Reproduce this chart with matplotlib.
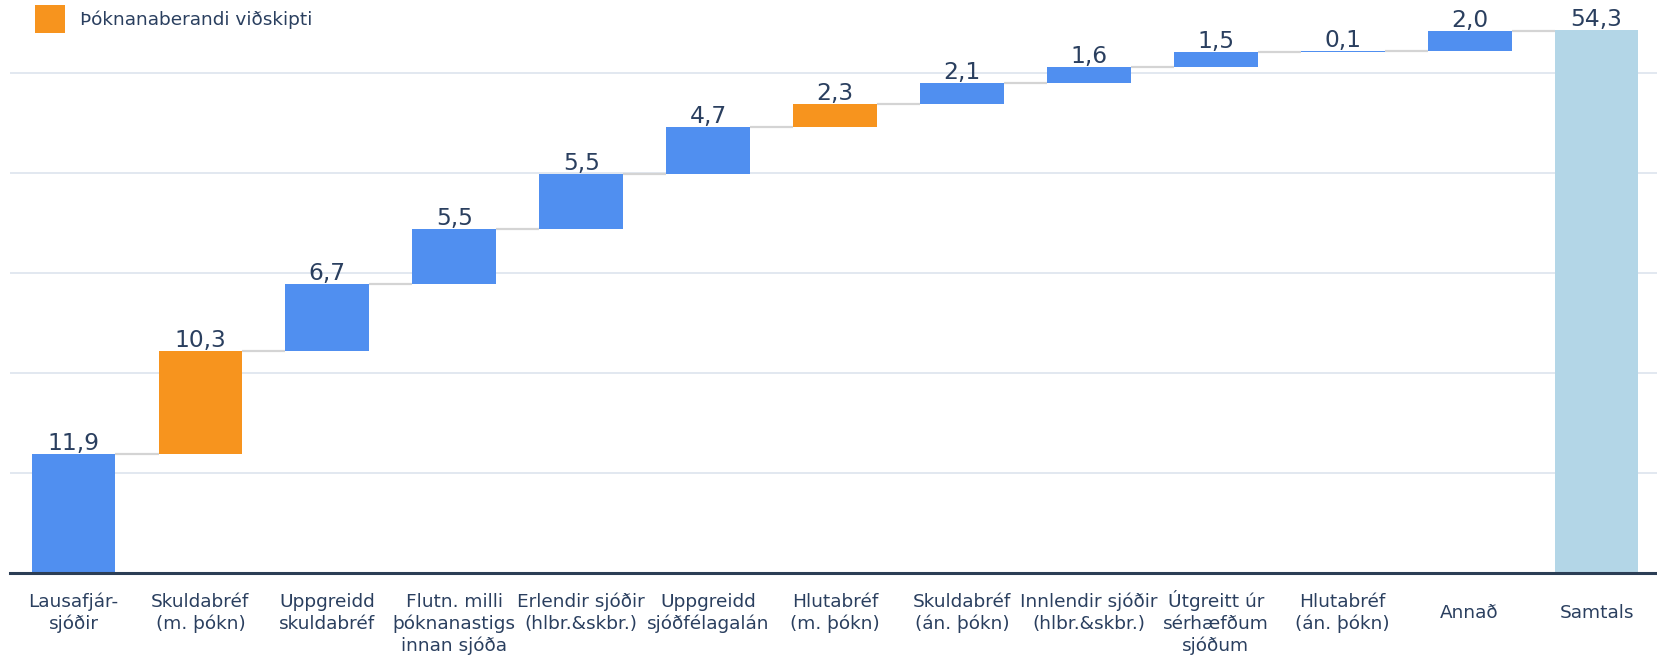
#!/usr/bin/env python3

import matplotlib
matplotlib.use("Agg")
import matplotlib.pyplot as plt
from matplotlib.patches import Patch


categories = [
    "Lausafjár-\nsjóðir",
    "Skuldabréf\n(m. þókn)",
    "Uppgreidd\nskuldabréf",
    "Flutn. milli\nþóknanastigs\ninnan sjóða",
    "Erlendir sjóðir\n(hlbr.&skbr.)",
    "Uppgreidd\nsjóðfélagalán",
    "Hlutabréf\n(m. þókn)",
    "Skuldabréf\n(án. þókn)",
    "Innlendir sjóðir\n(hlbr.&skbr.)",
    "Útgreitt úr\nsérhæfðum\nsjóðum",
    "Hlutabréf\n(án. þókn)",
    "Annað",
]
values = [11.9, 10.3, 6.7, 5.5, 5.5, 4.7, 2.3, 2.1, 1.6, 1.5, 0.1, 2.0]
fee_bearing = [False, True, False, False, False, False, True, False, False, False, False, False]
total_label = "Samtals"
total_value = 54.3
legend_label = "Þóknanaberandi viðskipti"

BLUE = "#508ff0"
ORANGE = "#f7941e"
TOTAL = "#b3d6e7"
TEXT = "#2a3f5f"
GRID = "#dfe6ef"
CONNECTOR = "#d4d4d4"


def main():
    fig = plt.figure(figsize=(16.57, 6.56), dpi=100)
    ax = fig.add_axes([10 / 1657, 83 / 656, 1650 / 1657, 558 / 656])

    width = 0.66
    n = len(values)

    # waterfall steps
    bottom = 0.0
    tops = []
    for i, v in enumerate(values):
        color = ORANGE if fee_bearing[i] else BLUE
        ax.bar(i, v, bottom=bottom, width=width, color=color, linewidth=0, zorder=3)
        bottom += v
        tops.append(bottom)
        ax.annotate(f"{v:.1f}".replace(".", ","), (i, bottom), xytext=(0, 4),
                    textcoords="offset pixels", ha="center", va="baseline",
                    fontsize=16.8, color=TEXT, zorder=4)

    ax.bar(n, total_value, width=width, color=TOTAL, linewidth=0, zorder=3)
    ax.annotate(f"{total_value:.1f}".replace(".", ","), (n, total_value), xytext=(0, 4),
                textcoords="offset pixels", ha="center", va="baseline",
                fontsize=16.8, color=TEXT, zorder=4)

    # connectors between bars
    for i, t in enumerate(tops):
        ax.hlines(t, i + width / 2, i + 1 - width / 2, color=CONNECTOR, linewidth=1.6, zorder=2)

    ax.set_xlim(-0.5, n + 0.5)
    ax.set_ylim(0, 55.8)
    ax.set_yticks([10, 20, 30, 40, 50])
    ax.yaxis.grid(True, color=GRID, linewidth=1.3, zorder=0)
    ax.tick_params(axis="y", left=False, labelleft=False)
    ax.set_xticks([])
    for s in ["top", "right", "left"]:
        ax.spines[s].set_visible(False)
    ax.spines["bottom"].set_color("#2c3e55")
    ax.spines["bottom"].set_linewidth(2.2)
    ax.spines["bottom"].set_zorder(5)

    # category labels under the axis, line by line on fixed baselines
    # (single-line ones sit centred on the two-line block)
    labels = categories + [total_label]
    step = 22
    for i, lab in enumerate(labels):
        lines = lab.split("\n")
        first = -34 if len(lines) > 1 else -45
        for k, line in enumerate(lines):
            ax.annotate(line, (i, 0), xycoords=("data", "axes fraction"),
                        xytext=(0, first - k * step), textcoords="offset pixels",
                        ha="center", va="baseline", fontsize=13.3, color=TEXT,
                        annotation_clip=False)

    handle = Patch(facecolor=ORANGE, edgecolor="none")
    fig.legend([handle], [legend_label], loc="upper left",
               bbox_to_anchor=(35 / 1657, 1 - 5 / 656), frameon=False,
               fontsize=13.3, labelcolor=TEXT, handlelength=1.65, handleheight=1.95,
               handletextpad=0.8, borderpad=0, borderaxespad=0)

    fig.savefig("out.png", dpi=100)
    plt.close(fig)


if __name__ == "__main__":
    main()
